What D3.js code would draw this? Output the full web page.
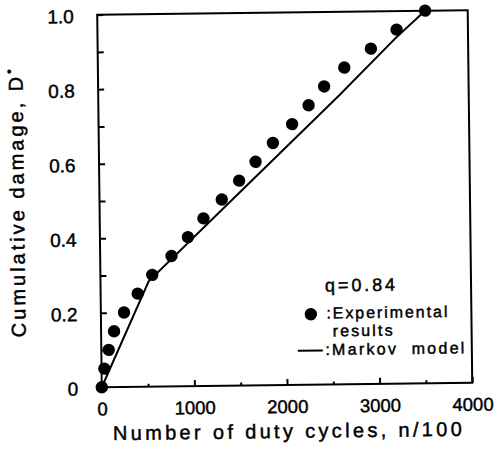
<!DOCTYPE html>
<html>
<head>
<meta charset="utf-8">
<script src="https://cdn.jsdelivr.net/npm/d3@7"></script>
<style>
  html, body { margin: 0; padding: 0; background: #fff; }
  svg { display: block; }
  text { font-family: "Liberation Sans", Arial, sans-serif; fill: #000; stroke: #000; stroke-width: 0.45px; }
</style>
</head>
<body>
<svg id="chart" width="499" height="454"></svg>
<script>
// ---- data ----
const expCycles = [0, 30, 80, 140, 250, 400, 560, 770, 950, 1120, 1320, 1510, 1690, 1880, 2090, 2270, 2440, 2660, 2950, 3230, 3540];
const expDamage = [0, 0.05, 0.10, 0.15, 0.20, 0.25, 0.30, 0.35, 0.40, 0.45, 0.50, 0.55, 0.60, 0.65, 0.70, 0.75, 0.80, 0.85, 0.90, 0.95, 1.00];
const modelCycles = [0, 520, 1480, 2600, 3220, 3540];
const modelDamage = [0, 0.283, 0.51, 0.775, 0.928, 1.0];
const xMajorTicks = [0, 1000, 2000, 3000, 4000];
const xMinorTicks = [500, 1500, 2500, 3500];
const xTickLabels = ["0", "1000", "2000", "3000", "4000"];
const yTicks = [0, 0.1, 0.2, 0.3, 0.4, 0.5, 0.6, 0.7, 0.8, 0.9, 1.0];
const yLabelValues = [0, 0.2, 0.4, 0.6, 0.8, 1.0];
const yTickLabels = ["0", "0.2", "0.4", "0.6", "0.8", "1.0"];
const legendNote = "q=0.84";
const expLabelLines = [":Experimental", "results"];
const modelLabel = ":Markov  model";
const xTitle = "Number of duty cycles, n/100";
const yTitle = "Cumulative damage, D";
const yTitleSup = "\u2022";

// ---- layout ----
const L = 99.5, R = 470, T = 12.4, B = 385;
const svg = d3.select("#chart");
const g = svg.append("g").attr("transform", "rotate(-0.7 285 200)");

const x = d3.scaleLinear().domain([0, 4000]).range([L, R]);
const y = d3.scaleLinear().domain([0, 1]).range([B, T]);

// frame
g.append("rect").attr("x", L).attr("y", T).attr("width", R - L).attr("height", B - T)
  .attr("fill", "none").attr("stroke", "#000").attr("stroke-width", 2);

// y axis (ticks inward)
const yAxis = d3.axisLeft(y).tickValues(yTicks).tickSize(-6).tickPadding(23.5)
  .tickFormat(d => {
    const i = yLabelValues.findIndex(v => Math.abs(v - d) < 1e-9);
    return i >= 0 ? yTickLabels[i] : "";
  });
const ya = g.append("g").attr("transform", `translate(${L},0)`).call(yAxis);
ya.select(".domain").remove();
ya.selectAll("line").attr("stroke", "#000").attr("stroke-width", 2);
ya.selectAll("text").attr("font-size", 19).attr("font-family", null).attr("dy", "0.4em");

// x axis major
const xAxis = d3.axisBottom(x).tickValues(xMajorTicks).tickSize(-6).tickPadding(15)
  .tickFormat((d, i) => xTickLabels[i]);
const xa = g.append("g").attr("transform", `translate(0,${B})`).call(xAxis);
xa.select(".domain").remove();
xa.selectAll("line").attr("stroke", "#000").attr("stroke-width", 2);
xa.selectAll("text").attr("font-size", 18.5).attr("font-family", null);

// x axis minor
const xMinor = d3.axisBottom(x).tickValues(xMinorTicks).tickSize(-3).tickFormat("");
const xm = g.append("g").attr("transform", `translate(0,${B})`).call(xMinor);
xm.select(".domain").remove();
xm.selectAll("line").attr("stroke", "#000").attr("stroke-width", 2);

// model line
const line = d3.line().x((d, i) => x(modelCycles[i])).y((d, i) => y(modelDamage[i]));
g.append("path").datum(modelCycles).attr("d", line)
  .attr("fill", "none").attr("stroke", "#000").attr("stroke-width", 2);

// experimental points
g.append("g").selectAll("circle").data(expCycles).join("circle")
  .attr("cx", d => x(d)).attr("cy", (d, i) => y(expDamage[i])).attr("r", 6.2).attr("fill", "#000");

// titles
g.append("text").attr("x", 110).attr("y", 438).attr("font-size", 20)
  .attr("textLength", 349).attr("lengthAdjust", "spacing").text(xTitle);

const yt = g.append("text").attr("transform", "translate(24,334) rotate(-90)")
  .attr("font-size", 20).attr("textLength", 268).attr("lengthAdjust", "spacing");
yt.append("tspan").text(yTitle);
yt.append("tspan").attr("dy", -9).attr("font-size", 13).text(yTitleSup);

// legend
const lg = g.append("g");
lg.append("text").attr("x", 324).attr("y", 292).attr("font-size", 18)
  .attr("textLength", 70).attr("lengthAdjust", "spacing").text(legendNote);
lg.append("circle").attr("cx", 309.5).attr("cy", 314.5).attr("r", 6.2).attr("fill", "#000");
const et = lg.append("text").attr("font-size", 16);
et.append("tspan").attr("x", 325).attr("y", 319)
  .attr("textLength", 121).attr("lengthAdjust", "spacing").text(expLabelLines[0]);
et.append("tspan").attr("x", 331).attr("y", 337)
  .attr("textLength", 60).attr("lengthAdjust", "spacing").text(expLabelLines[1]);
lg.append("line").attr("x1", 296).attr("x2", 321).attr("y1", 351).attr("y2", 351)
  .attr("stroke", "#000").attr("stroke-width", 2);
lg.append("text").attr("x", 323.5).attr("y", 355.5).attr("font-size", 16)
  .style("white-space", "pre")
  .attr("textLength", 139).attr("lengthAdjust", "spacing").text(modelLabel);
</script>
</body>
</html>
